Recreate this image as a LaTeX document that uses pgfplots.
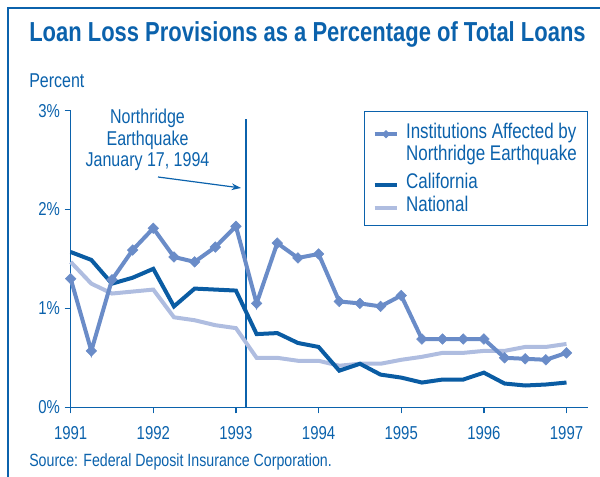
\documentclass[border=0pt]{standalone}
\usepackage{fontspec}
\setmainfont[FakeStretch=0.8]{Liberation Sans}
\usepackage{pgfplots}
\pgfplotsset{compat=1.18}
\usetikzlibrary{arrows.meta}
\definecolor{tblue}{HTML}{0B62AC}
\definecolor{inst}{HTML}{6A8CC8}
\definecolor{cal}{HTML}{0A5CA3}
\definecolor{nat}{HTML}{AFBDE0}
\newcommand{\lf}{\fontsize{15}{16.1}\selectfont}
\newcommand{\legf}{\fontsize{15.9}{16}\selectfont}
\newcommand{\tf}{\fontsize{14}{16}\selectfont}
\begin{document}
\begin{tikzpicture}
\begin{scope}[x=0.75pt,y=0.75pt]
\path[use as bounding box] (0,0) rectangle (600,477);
\draw[tblue, line width=1.5pt] (8,0) -- (8,469) -- (600,469);
\node[anchor=base west, inner sep=0pt, text=tblue, font=\bfseries\fontsize{20.6}{24}\selectfont] at (29,435.5) {Loan Loss Provisions as a Percentage of Total Loans};
\node[anchor=base west, inner sep=0pt, text=tblue, font=\lf] at (29,389.7) {Percent};
\node[anchor=base west, inner sep=0pt, text=tblue, font=\fontsize{13.3}{15}\selectfont] at (29,10) {Source: Federal Deposit Insurance Corporation.};
\node[align=center, text=tblue, font=\lf, inner sep=0pt] at (147.5,337) {Northridge\\Earthquake\\January 17, 1994};
\draw[tblue, line width=0.9pt, -{Stealth[length=7pt,width=5pt]}] (158,300) -- (241,289);
\end{scope}
\begin{axis}[
  at={(53.0pt,52.3pt)}, anchor=south west,
  scale only axis, width=388pt, height=222.5pt,
  xmin=1991, xmax=1997.26, ymin=0, ymax=3,
  axis lines=left, axis line style={tblue, line width=1.1pt, -},
  xtick={1991,1992,1993,1994,1995,1996,1997},
  xticklabels={1991,1992,1993,1994,1995,1996,1997},
  ytick={0,1,2,3}, yticklabels={0\%,1\%,2\%,3\%},
  tick align=outside, major tick length=4.5pt,
  tick style={tblue, line width=1.1pt},
  ticklabel style={text=tblue, font=\tf},
  xticklabel style={yshift=-6pt},
  /pgf/number format/assume math mode=true,
  clip=false,
  legend style={at={(1,1)}, anchor=north east, draw=tblue, line width=0.9pt, fill=white,
    text=tblue, font=\legf, inner xsep=6pt, inner ysep=8.75pt, row sep=4pt,
    nodes={inner ysep=0pt},
    /tikz/every even column/.append style={column sep=0pt},
    /tikz/every odd column/.append style={column sep=3pt},
    cells={anchor=base west}},
  legend image post style={yshift=0.3em},
]
\addlegendimage{inst, line width=3pt, mark=square*, mark size=2pt,
  mark options={rotate=45, solid, fill=inst, draw=inst, line width=0.4pt}}
\addlegendentry{Institutions Affected by}
\addlegendimage{empty legend}
\addlegendentry{\raisebox{4pt}{Northridge Earthquake}}
\addlegendimage{cal, line width=3pt}
\addlegendentry{California}
\addlegendimage{nat, line width=3pt}
\addlegendentry{National\rule[-4.5pt]{0pt}{1pt}}
\draw[tblue, line width=1pt] (axis cs:1993.12,0) -- (axis cs:1993.12,2.92);
\addplot[nat, line width=3pt, forget plot] coordinates {
(1991.00,1.47) (1991.25,1.25) (1991.50,1.15) (1991.75,1.17) (1992.00,1.19)
(1992.25,0.91) (1992.50,0.88) (1992.75,0.83) (1993.00,0.80) (1993.25,0.50)
(1993.50,0.50) (1993.75,0.47) (1994.00,0.47) (1994.25,0.42) (1994.50,0.44)
(1994.75,0.44) (1995.00,0.48) (1995.25,0.51) (1995.50,0.55) (1995.75,0.55)
(1996.00,0.57) (1996.25,0.57) (1996.50,0.61) (1996.75,0.61) (1997.00,0.64)};
\addplot[cal, line width=3pt, forget plot] coordinates {
(1991.00,1.57) (1991.25,1.49) (1991.50,1.25) (1991.75,1.31) (1992.00,1.40)
(1992.25,1.02) (1992.50,1.20) (1992.75,1.19) (1993.00,1.18) (1993.25,0.74)
(1993.50,0.75) (1993.75,0.65) (1994.00,0.61) (1994.25,0.37) (1994.50,0.44)
(1994.75,0.33) (1995.00,0.30) (1995.25,0.25) (1995.50,0.28) (1995.75,0.28)
(1996.00,0.35) (1996.25,0.24) (1996.50,0.22) (1996.75,0.23) (1997.00,0.25)};
\addplot[inst, line width=3pt, mark=square*, mark size=2.8pt, forget plot,
  mark options={rotate=45, solid, fill=inst, draw=inst, line width=0.4pt}] coordinates {
(1991.00,1.30) (1991.25,0.57) (1991.50,1.29) (1991.75,1.59) (1992.00,1.81)
(1992.25,1.52) (1992.50,1.47) (1992.75,1.62) (1993.00,1.83) (1993.25,1.05)
(1993.50,1.66) (1993.75,1.51) (1994.00,1.55) (1994.25,1.07) (1994.50,1.05)
(1994.75,1.02) (1995.00,1.13) (1995.25,0.69) (1995.50,0.69) (1995.75,0.69)
(1996.00,0.69) (1996.25,0.50) (1996.50,0.49) (1996.75,0.48) (1997.00,0.55)};
\end{axis}
\end{tikzpicture}
\end{document}
